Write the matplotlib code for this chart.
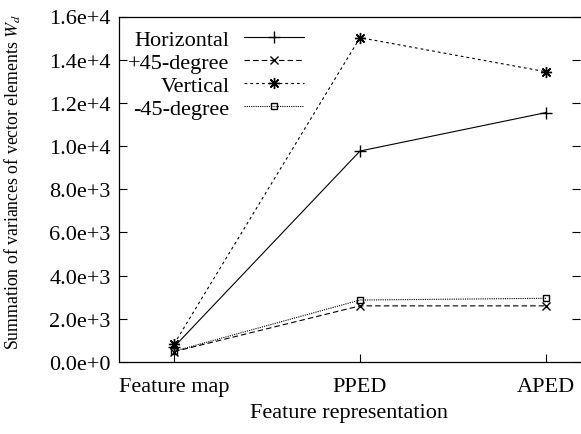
import matplotlib
matplotlib.use("Agg")
import matplotlib.pyplot as plt

plt.rcParams["font.family"] = ["Liberation Serif", "DejaVu Serif"]
plt.rcParams["mathtext.fontset"] = "stix"
plt.rcParams["lines.scale_dashes"] = False

categories = ["Feature map", "PPED", "APED"]
horizontal = [700, 9770, 11550]
plus45 = [480, 2600, 2600]
vertical = [830, 15020, 13440]
minus45 = [500, 2870, 2950]
y_ticks = [0, 2000, 4000, 6000, 8000, 10000, 12000, 14000, 16000]
y_tick_labels = ["0.0e+0", "2.0e+3", "4.0e+3", "6.0e+3", "8.0e+3",
                 "1.0e+4", "1.2e+4", "1.4e+4", "1.6e+4"]

W, H = 581, 435
fig = plt.figure(figsize=(W / 100, H / 100), dpi=100)
ax = fig.add_axes([119 / W, 1 - 363 / H, (580 - 119) / W, (363 - 17.5) / H])

x = list(range(len(categories)))
lw = 0.8
ax.plot(x, horizontal, color="black", lw=lw, marker="+", ms=8, mew=1,
        label="Horizontal")
ax.plot(x, plus45, color="black", lw=lw, marker="x", ms=6, mew=1,
        dashes=(4, 2.2), label="+45-degree")
ax.plot(x, vertical, color="black", lw=lw, marker=(8, 2, 0), ms=8, mew=1,
        dashes=(2, 2.2), label="Vertical")
ax.plot(x, minus45, color="black", lw=lw, marker="s", ms=5, mew=1,
        mfc="none", dashes=(0.8, 0.8), label="-45-degree")

ax.set_xlim(-0.296, 2.183)
ax.set_ylim(0, 16000)
ax.set_xticks(x)
ax.set_xticklabels(categories)
ax.set_yticks(y_ticks)
ax.set_yticklabels(y_tick_labels)
ax.tick_params(axis="both", direction="in", labelsize=16, length=6, width=0.8)
ax.tick_params(axis="y", right=True, pad=6)
ax.tick_params(axis="x", pad=11)
ax.spines["right"].set_visible(False)
for s in ["left", "top", "bottom"]:
    ax.spines[s].set_linewidth(0.9)

ax.set_xlabel("Feature representation", fontsize=16, labelpad=5)
ax.set_ylabel("Summation of variances of vector elements $W_d$", fontsize=12.8)
ax.yaxis.set_label_coords(-0.208, 0.524)

ax.legend(loc="upper right", bbox_to_anchor=(304 / W, 1 - 30 / H),
          bbox_transform=fig.transFigure, frameon=False, markerfirst=False,
          fontsize=16, handlelength=2.7, handletextpad=0.65, numpoints=1,
          labelspacing=0.12, borderpad=0, borderaxespad=0)

fig.savefig("out.png", dpi=100)
